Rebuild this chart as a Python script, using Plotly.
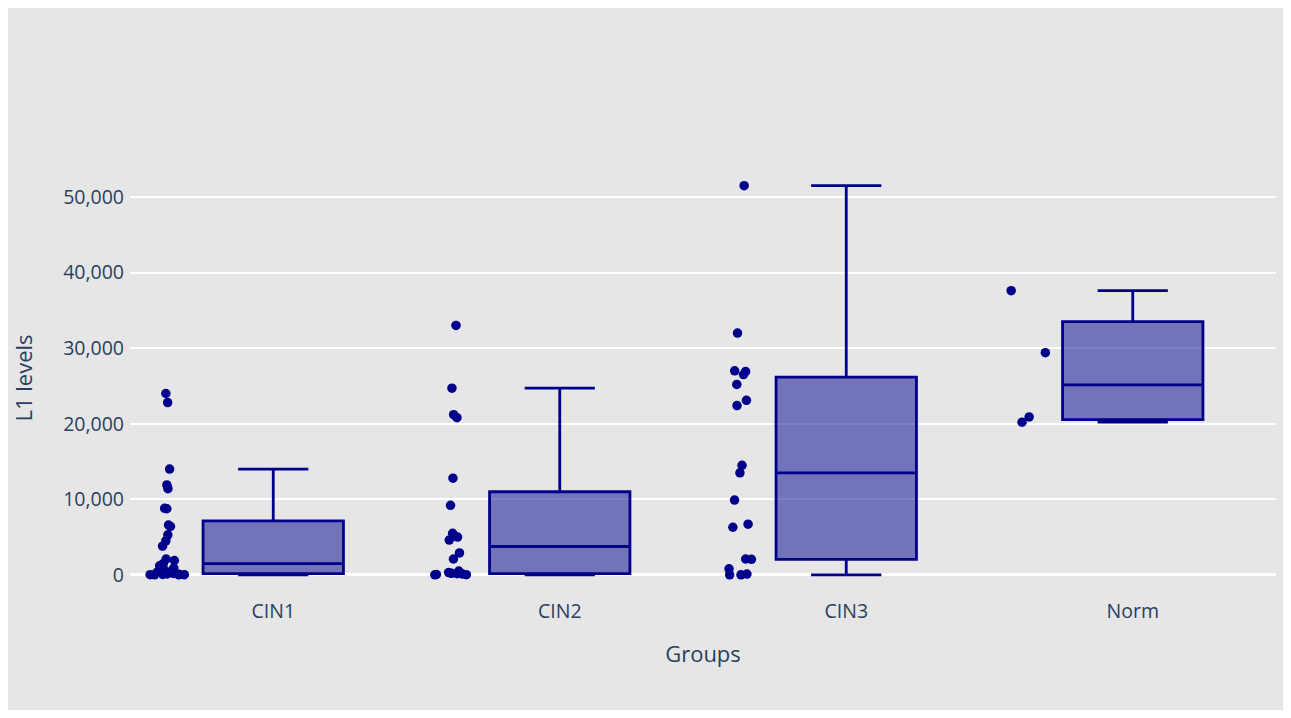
import plotly.graph_objects as go

groups = ["CIN1", "CIN2", "CIN3", "Norm"]

cin1_values = [24000, 22800, 14000, 11900, 11400, 8800, 8750, 6600, 6400, 5300,
               4500, 3800, 2100, 1900, 1500, 1200, 900, 700, 500, 350,
               250, 180, 120, 80, 50, 30, 20, 10, 0]
cin2_values = [33000, 24700, 21200, 20800, 12800, 9200, 5500, 5200, 5000, 4600,
               2900, 2100, 500, 300, 200, 150, 100, 50, 20, 0]
cin3_values = [51500, 32000, 27000, 26900, 26500, 25200, 23100, 22400, 14500, 13500,
               9900, 6700, 6300, 2100, 2050, 800, 100, 0, 0]
norm_values = [37600, 29400, 20900, 20200]

group_values = [cin1_values, cin2_values, cin3_values, norm_values]

x_all = []
y_all = []
for g, vals in zip(groups, group_values):
    x_all += [g] * len(vals)
    y_all += vals

BG = "#e6e6e6"

fig = go.Figure(
    go.Box(
        x=x_all,
        y=y_all,
        boxpoints="all",
        jitter=0.3,
        pointpos=-1.5,
        marker=dict(color="darkblue", size=9.5),
        line=dict(color="darkblue", width=2.8),
        fillcolor="rgba(0,0,139,0.5)",
        showlegend=False,
    )
)

fig.update_layout(
    template="plotly",
    width=1275,
    height=702,
    margin=dict(l=120, r=7, t=155, b=117),
    paper_bgcolor=BG,
    plot_bgcolor=BG,
    font=dict(family="Open Sans, verdana, arial, sans-serif", color="#2a3f5f", size=19),
    xaxis=dict(
        title=dict(text="Groups", font=dict(size=22), standoff=24),
        categoryorder="array",
        categoryarray=groups,
        range=[-0.5, 3.5],
        showgrid=False,
        zeroline=False,
        tickfont=dict(size=19.5),
        ticklabelstandoff=4,
    ),
    yaxis=dict(
        title=dict(text="L1 levels", font=dict(size=22), standoff=33),
        range=[-2400, 54500],
        tickvals=[0, 10000, 20000, 30000, 40000, 50000],
        tickformat=",d",
        showgrid=True,
        gridcolor="white",
        gridwidth=1.5,
        zeroline=True,
        zerolinecolor="white",
        zerolinewidth=2.8,
        tickfont=dict(size=19.5),
        ticklabelstandoff=5,
    ),
)

fig.write_html("out.html")
